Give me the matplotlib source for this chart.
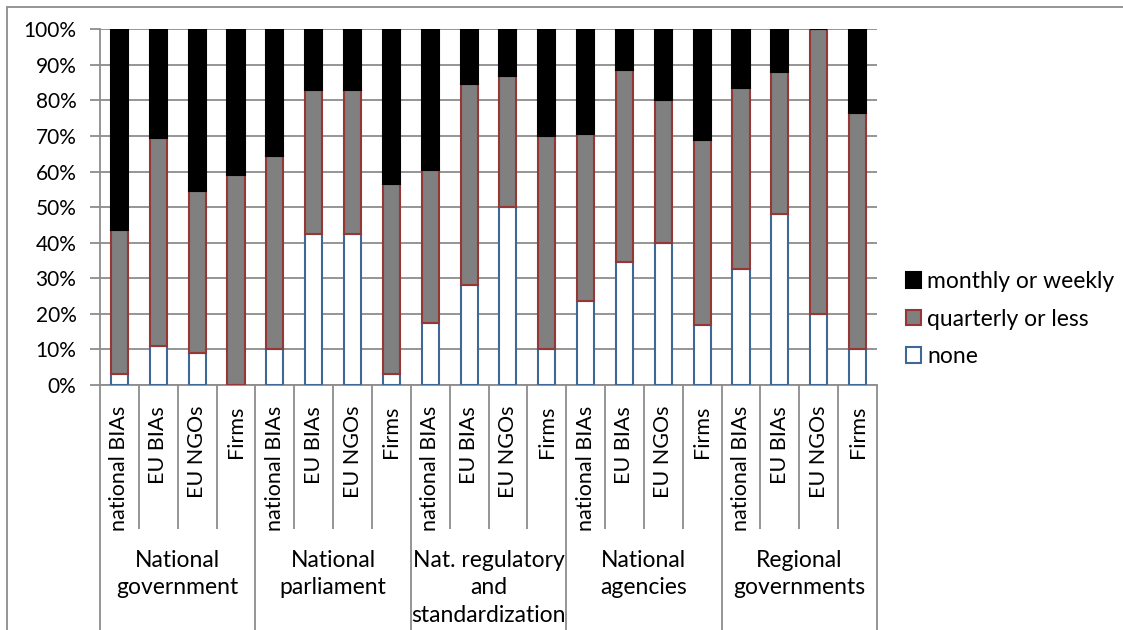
import numpy as np
import matplotlib
matplotlib.use("Agg")
import matplotlib.pyplot as plt
from matplotlib.patches import Rectangle
from matplotlib.transforms import blended_transform_factory

plt.rcParams['font.family'] = ['Lato', 'DejaVu Sans']

groups = ['National\ngovernment', 'National\nparliament',
          'Nat. regulatory\nand\nstandardization', 'National\nagencies',
          'Regional\ngovernments']
actors = ['national BIAs', 'EU BIAs', 'EU NGOs', 'Firms']

# shares in percent, one value per bar (group by group, actor by actor)
none = [3, 11, 9, 0,
        10, 42.5, 42.5, 3,
        17.5, 28, 50, 10,
        23.5, 34.5, 40, 17,
        32.5, 48, 20, 10]
quarterly = [40.5, 58.5, 45.5, 59,
             54.5, 40.5, 40.5, 53.5,
             43, 56.5, 37, 60,
             47, 54, 40, 52,
             51, 40, 80, 66.5]
monthly = [100 - a - b for a, b in zip(none, quarterly)]

W, H = 1123, 630
fig = plt.figure(figsize=(W / 100, H / 100), dpi=100)
ax = fig.add_axes([100 / W, 1 - 385 / H, 777 / W, (385 - 29.3) / H])

n = len(none)
x = np.arange(n)
bw = 0.44
ax.bar(x, none, bw, color='white', edgecolor='#3f6797', linewidth=1.5,
       label='none', zorder=3)
ax.bar(x, quarterly, bw, bottom=none, color='#808080', edgecolor='#953735',
       linewidth=1.5, label='quarterly or less', zorder=3)
ax.bar(x, monthly, bw, bottom=np.add(none, quarterly), color='black',
       edgecolor='black', linewidth=1.5, label='monthly or weekly', zorder=3)

ax.set_xlim(-0.5, n - 0.5)
ax.set_ylim(0, 100)
ax.set_yticks(np.arange(0, 101, 10))
ax.set_yticklabels([f'{v}%' for v in range(0, 101, 10)], fontsize=15)
ax.yaxis.grid(True, color='#8c8c8c', linewidth=1.3, zorder=0)
ax.tick_params(axis='y', length=7, width=1.3, color='#8c8c8c', pad=10)

for s in ['top', 'right']:
    ax.spines[s].set_visible(False)
for s in ['left', 'bottom']:
    ax.spines[s].set_color('#8c8c8c')
    ax.spines[s].set_linewidth(1.3)

ax.set_xticks(x)
ax.set_xticklabels(actors * len(groups), rotation=90, fontsize=15.5)
ax.tick_params(axis='x', length=0, pad=15)

# category separators below the axis
tr = blended_transform_factory(ax.transData, ax.transAxes)
ax_h = 385 - 29.3
inner_end = -(529 - 385) / ax_h
outer_end = -(640 - 385) / ax_h
for b in np.arange(0, n + 1) - 0.5:
    end = outer_end if int(b + 0.5) % 4 == 0 else inner_end
    ax.plot([b, b], [0, end], transform=tr, color='#8c8c8c', lw=1.3,
            clip_on=False, solid_capstyle='butt')

for i, g in enumerate(groups):
    ax.text(i * 4 + 1.5, -(550 - 385) / ax_h, g, transform=tr, ha='center',
            va='top', fontsize=16.5, linespacing=1.38)

handles, labels = ax.get_legend_handles_labels()
fig.legend(handles[::-1], labels[::-1], loc='center left',
           bbox_to_anchor=(885 / W, 1 - 319 / H), frameon=False, fontsize=16.5,
           handlelength=0.65, handleheight=0.65, handletextpad=0.3,
           labelspacing=0.72)

# chart area border
fig.add_artist(Rectangle((7 / W, -0.1), 1.2, 1 - 7 / H + 0.1,
                         transform=fig.transFigure, fill=False,
                         edgecolor='#8c8c8c', linewidth=1.3))

fig.savefig('out.png', dpi=100)
